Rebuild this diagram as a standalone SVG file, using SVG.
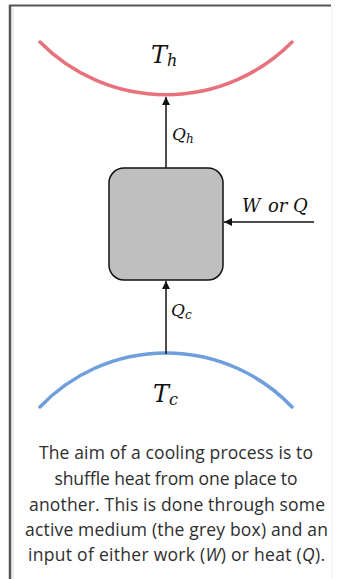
<svg xmlns="http://www.w3.org/2000/svg" width="338" height="579" viewBox="0 0 338 579">
<style>
.math{font-family:"DejaVu Serif","Liberation Serif",serif;font-style:italic;fill:#111}
.cap{font-family:"Open Sans","Liberation Sans",sans-serif;font-size:17.5px;fill:#2e2e2e;text-anchor:middle}
.conn{stroke:#111;stroke-width:1.5;fill:none}
</style>
<defs>
<marker id="ah" viewBox="0 0 10 10" refX="10" refY="5" markerWidth="8" markerHeight="9" markerUnits="userSpaceOnUse" orient="auto">
<path d="M0,0 L10,5 L0,10 z" fill="#111"/>
</marker>
</defs>
<rect x="0" y="0" width="338" height="579" fill="#fff"/>
<g id="frame">
<line x1="10" y1="5" x2="10" y2="579" stroke="#555" stroke-width="2.5"/>
<line x1="9" y1="5.5" x2="331" y2="5.5" stroke="#555" stroke-width="2"/>
<line x1="13" y1="8" x2="13" y2="579" stroke="#ddd" stroke-width="1"/>
<line x1="332" y1="6" x2="332" y2="579" stroke="#eee" stroke-width="1"/>
</g>
<g id="hot">
<path d="M40,42 A177,177 0 0,0 292,42" fill="none" stroke="#e8727c" stroke-width="3.5" stroke-linecap="round"/>
<text class="math" x="151" y="63" font-size="24">T<tspan font-size="16" dy="3">h</tspan></text>
</g>
<g id="cold">
<path d="M40,407 A174,174 0 0,1 292,407" fill="none" stroke="#6f9edc" stroke-width="3.5" stroke-linecap="round"/>
<text class="math" x="153" y="402" font-size="24">T<tspan font-size="16" dy="3">c</tspan></text>
</g>
<g id="medium">
<rect x="109" y="168" width="114" height="112" rx="15" ry="15" fill="#bfbfbf" stroke="#111" stroke-width="1.5"/>
</g>
<g id="connectors">
<line class="conn" x1="166" y1="168" x2="166" y2="97" marker-end="url(#ah)"/>
<line class="conn" x1="166" y1="354" x2="166" y2="281" marker-end="url(#ah)"/>
<line class="conn" x1="314" y1="222" x2="224" y2="222" marker-end="url(#ah)"/>
</g>
<g id="labels">
<text class="math" x="172" y="140" font-size="17">Q<tspan font-size="12" dy="3">h</tspan></text>
<text class="math" x="171" y="316" font-size="17">Q<tspan font-size="12" dy="3">c</tspan></text>
<text class="math" font-size="18" y="212"><tspan x="242">W</tspan><tspan x="268">or</tspan><tspan x="293">Q</tspan></text>
</g>
<g id="caption">
<text class="cap" x="176" y="459" textLength="274">The aim of a cooling process is to</text>
<text class="cap" x="176" y="485" textLength="243">shuffle heat from one place to</text>
<text class="cap" x="177" y="511" textLength="296">another. This is done through some</text>
<text class="cap" x="176.5" y="536" textLength="303">active medium (the grey box) and an</text>
<text class="cap" x="176.5" y="561" textLength="297">input of either work (<tspan font-style="italic">W</tspan>) or heat (<tspan font-style="italic">Q</tspan>).</text>
</g>
</svg>
